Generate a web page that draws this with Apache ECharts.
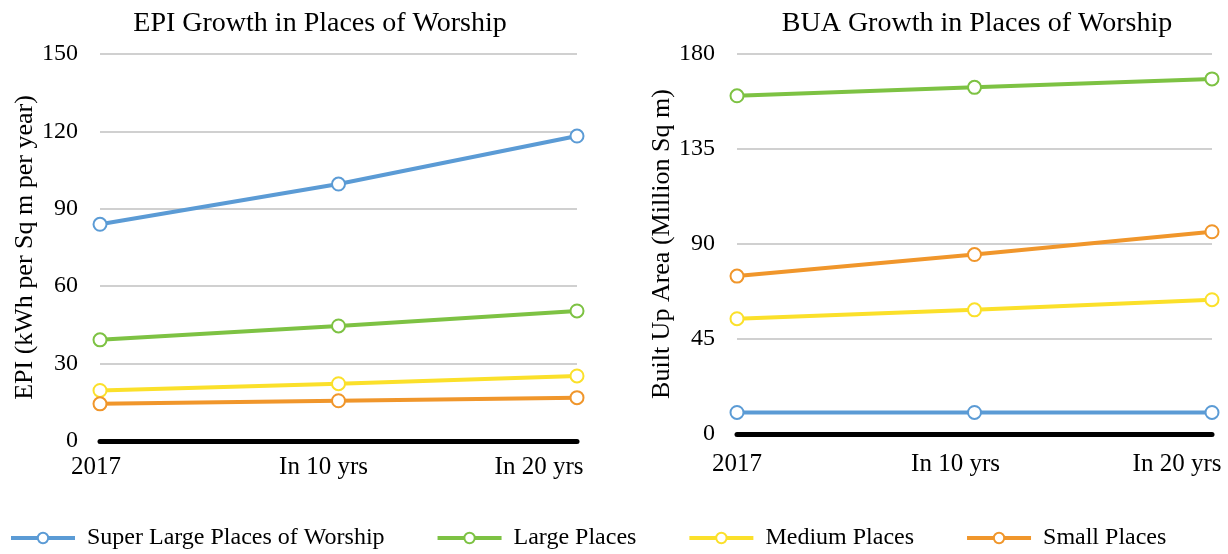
<!DOCTYPE html>
<html>
<head>
<meta charset="utf-8">
<script src="https://cdn.jsdelivr.net/npm/echarts@6/dist/echarts.min.js"></script>
<style>html,body{margin:0;padding:0;background:#fff;}#c{width:1228px;height:554px;}</style>
</head>
<body>
<div id="c"></div>
<script>
const categories = ['2017', 'In 10 yrs', 'In 20 yrs'];
const seriesNames = ['Super Large Places of Worship', 'Large Places', 'Medium Places', 'Small Places'];
const epiSuperLarge = [84, 99.6, 118.2];
const epiLarge = [39.2, 44.6, 50.4];
const epiMedium = [19.6, 22.2, 25.2];
const epiSmall = [14.4, 15.6, 16.8];
const buaSuperLarge = [10.2, 10.2, 10.2];
const buaLarge = [160.2, 164.2, 168.2];
const buaMedium = [54.6, 58.8, 63.6];
const buaSmall = [74.8, 85, 95.8];
const epiTicks = { min: 0, max: 150, interval: 30 };
const buaTicks = { min: 0, max: 180, interval: 45 };

const colors = ['#5B9BD5', '#7DC243', '#FBE02A', '#F0962B'];
const FONT = '"Liberation Serif", "Times New Roman", serif';

function mkSeries(name, data, idx, color) {
  return {
    name: name, type: 'line', data: data,
    xAxisIndex: idx, yAxisIndex: idx,
    symbol: 'circle', symbolSize: 13,
    lineStyle: { color: color, width: 4 },
    itemStyle: { color: '#fff', borderColor: color, borderWidth: 2 },
    emphasis: { disabled: true },
    animation: false, z: 3
  };
}

function xAx(idx, shifts, margin) {
  const fs = 25;
  return {
    type: 'category', gridIndex: idx, data: categories, boundaryGap: false,
    axisLine: { onZero: false, lineStyle: { color: '#000', width: 5 } },
    axisTick: { show: false },
    axisLabel: {
      fontFamily: FONT, fontSize: fs, color: '#000', margin: margin,
      interval: 0,
      formatter: function (v, i) { return '{s' + i + '|' + v + '}'; },
      rich: {
        s0: { fontFamily: FONT, fontSize: fs, color: '#000', padding: [0, shifts[0] * 2, 0, 0] },
        s1: { fontFamily: FONT, fontSize: fs, color: '#000', padding: [0, shifts[1] * 2, 0, 0] },
        s2: { fontFamily: FONT, fontSize: fs, color: '#000', padding: [0, shifts[2] * 2, 0, 0] }
      }
    },
    splitLine: { show: false }
  };
}

function yAx(idx, ticks, name, gap) {
  return {
    type: 'value', gridIndex: idx, min: ticks.min, max: ticks.max, interval: ticks.interval,
    name: name, nameLocation: 'middle', nameGap: gap,
    nameTextStyle: { fontFamily: FONT, fontSize: 26, color: '#000' },
    axisLine: { show: false }, axisTick: { show: false },
    axisLabel: { fontFamily: FONT, fontSize: 24, color: '#000', margin: 22 },
    splitLine: { lineStyle: { color: '#D0D0D0', width: 2 } }
  };
}

const chart = echarts.init(document.getElementById('c'), null, { renderer: 'canvas' });
chart.setOption({
  backgroundColor: '#fff',
  animation: false,
  title: [
    { text: 'EPI Growth in Places of Worship', left: 315, top: 5, textAlign: 'center',
      textStyle: { fontFamily: FONT, fontSize: 28, fontWeight: 'normal', color: '#000' } },
    { text: 'BUA Growth in Places of Worship', left: 972, top: 5, textAlign: 'center',
      textStyle: { fontFamily: FONT, fontSize: 28, fontWeight: 'normal', color: '#000' } }
  ],
  legend: {
    data: seriesNames, left: 4, top: 521, itemWidth: 64, itemHeight: 13, itemGap: 51,
    lineStyle: { width: 4 },
    textStyle: { fontFamily: FONT, fontSize: 24, color: '#000', padding: [0, 0, 0, 7] }
  },
  grid: [
    { left: 100, right: 651, top: 54, bottom: 113 },
    { left: 737, right: 16, top: 54, bottom: 120 }
  ],
  xAxis: [xAx(0, [4, 15, 38], 14), xAx(1, [0, 19, 35], 18)],
  yAxis: [
    yAx(0, epiTicks, 'EPI (kWh per Sq m per year)', 62),
    yAx(1, buaTicks, 'Built Up Area (Million Sq m)', 56)
  ],
  series: [
    mkSeries(seriesNames[0], epiSuperLarge, 0, colors[0]),
    mkSeries(seriesNames[1], epiLarge, 0, colors[1]),
    mkSeries(seriesNames[2], epiMedium, 0, colors[2]),
    mkSeries(seriesNames[3], epiSmall, 0, colors[3]),
    mkSeries(seriesNames[0], buaSuperLarge, 1, colors[0]),
    mkSeries(seriesNames[1], buaLarge, 1, colors[1]),
    mkSeries(seriesNames[2], buaMedium, 1, colors[2]),
    mkSeries(seriesNames[3], buaSmall, 1, colors[3])
  ]
});
</script>
</body>
</html>
